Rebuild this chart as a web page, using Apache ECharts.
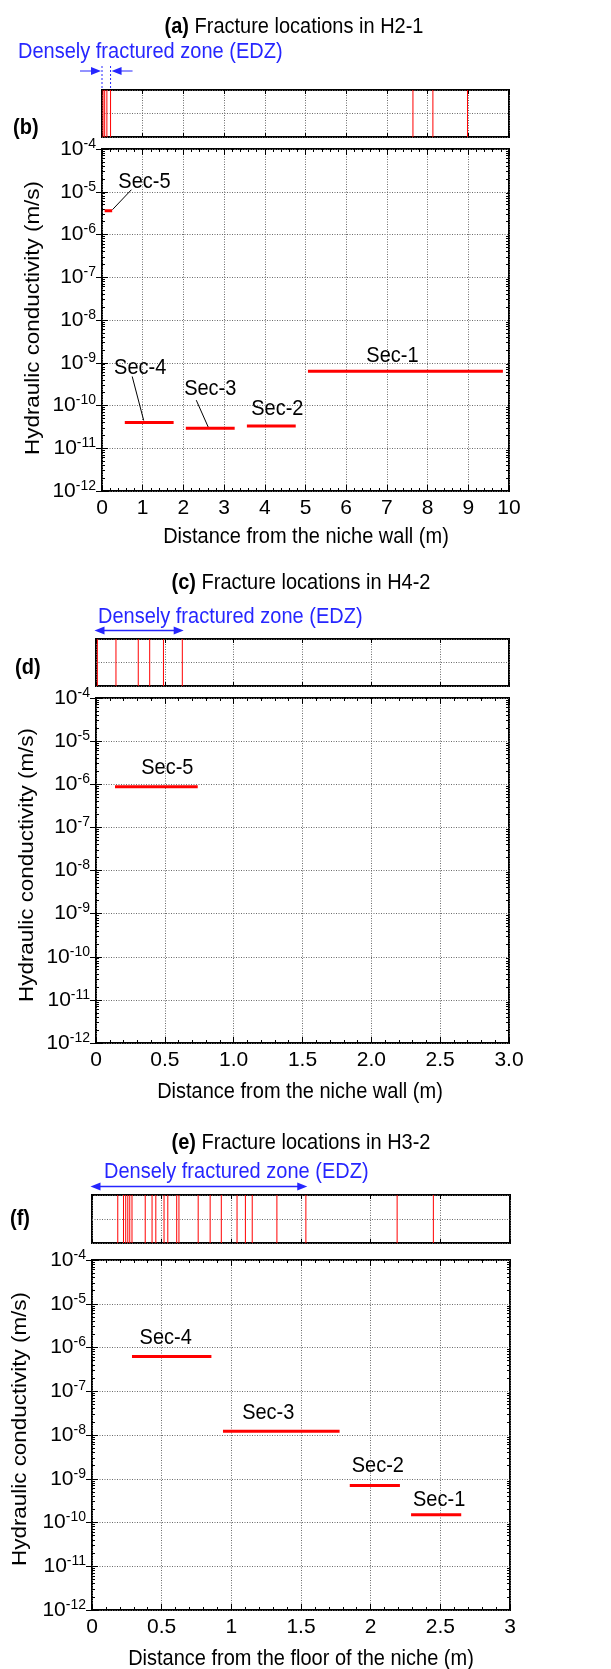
<!DOCTYPE html>
<html>
<head>
<meta charset="utf-8">
<script src="https://cdn.jsdelivr.net/npm/echarts@6/dist/echarts.min.js"></script>
<style>
  html, body { margin: 0; padding: 0; background: #fff; }
  #chart { width: 611px; height: 1669px; }
</style>
</head>
<body>
<div id="chart"></div>
<script>
// ---- Fracture positions along each borehole (m) ----
const fracturesH21 = [0.025, 0.066, 0.12, 0.21, 7.64, 8.13, 8.98];
const fracturesH42 = [0.01, 0.145, 0.307, 0.39, 0.49, 0.627];
const fracturesH32 = [0.185, 0.226, 0.242, 0.257, 0.271, 0.287, 0.382, 0.431, 0.458,
                      0.517, 0.544, 0.608, 0.624, 0.762, 0.848, 0.928, 1.041, 1.101,
                      1.150, 1.327, 1.535, 2.19, 2.45];

// ---- End of the densely fractured zone (m) ----
const edzEndH21 = 0.21;
const edzEndH42 = 0.637;
const edzEndH32 = 1.545;

// ---- Packer test sections: name, start (m), end (m), hydraulic conductivity (m/s) ----
const sectionNamesH21 = ['Sec-1', 'Sec-2', 'Sec-3', 'Sec-4', 'Sec-5'];
const sectionFromH21  = [5.06, 3.56, 2.06, 0.56, 0.065];
const sectionToH21    = [9.85, 4.76, 3.26, 1.76, 0.25];
const conductivityH21 = [6.3e-10, 3.3e-11, 2.95e-11, 4.0e-11, 3.6e-6];

const sectionNamesH42 = ['Sec-5'];
const sectionFromH42  = [0.138];
const sectionToH42    = [0.739];
const conductivityH42 = [8.7e-7];

const sectionNamesH32 = ['Sec-1', 'Sec-2', 'Sec-3', 'Sec-4'];
const sectionFromH32  = [2.29, 1.85, 0.94, 0.287];
const sectionToH32    = [2.65, 2.21, 1.777, 0.857];
const conductivityH32 = [1.5e-10, 7.0e-10, 1.22e-8, 6.2e-7];

// ---- Axis ranges and tick labels ----
const kMin = 1e-12, kMax = 1e-4;
const xTickLabelsH21 = ['0', '1', '2', '3', '4', '5', '6', '7', '8', '9', '10'];
const xTickLabelsH42 = ['0', '0.5', '1.0', '1.5', '2.0', '2.5', '3.0'];
const xTickLabelsH32 = ['0', '0.5', '1', '1.5', '2', '2.5', '3'];

const FONT = '"Liberation Sans", Arial, Helvetica, sans-serif';
const RED = '#ff0000';
const BLUE = '#2626ff';

// logarithmic minor ticks (2..9 within each decade)
const logMinorTicks = [];
for (let e = -12; e < -4; e++) {
  for (let m = 2; m <= 9; m++) logMinorTicks.push(m * Math.pow(10, e));
}

// Per-borehole panel layout
const panels = [
  {
    tag: '(a)', title: 'Fracture locations in H2-1', titleX: 294, titleY: 27,
    plotTag: '(b)', plotTagX: 13, plotTagY: 128,
    edzTextX: 18, edzTextY: 52, edzStyle: 'inward', edzEnd: edzEndH21,
    fractures: fracturesH21,
    names: sectionNamesH21, from: sectionFromH21, to: sectionToH21, k: conductivityH21,
    xMax: 10, xStep: 1, xLabels: xTickLabelsH21,
    xTitle: 'Distance from the niche wall (m)', xTitleX: 306, xTitleY: 537,
    yTitleX: 33, yTitleY: 318,
    strip: { left: 102, top: 90, width: 407, height: 47 },
    main: { left: 102, top: 149, width: 407, height: 342 },
    labelOffset: { 'Sec-1': [-13, -16], 'Sec-2': [6, -17], 'Sec-3': [0, -39], 'Sec-4': [-9, -55], 'Sec-5': [36, -29] },
    leaders: { 'Sec-3': [[-14, 11], [-2, -1]], 'Sec-4': [[-8, 9], [-5.5, -2]], 'Sec-5': [[-13, 8], [4, -1]] }
  },
  {
    tag: '(c)', title: 'Fracture locations in H4-2', titleX: 301, titleY: 583,
    plotTag: '(d)', plotTagX: 15, plotTagY: 668,
    edzTextX: 98, edzTextY: 617, edzStyle: 'span', edzEnd: edzEndH42,
    fractures: fracturesH42,
    names: sectionNamesH42, from: sectionFromH42, to: sectionToH42, k: conductivityH42,
    xMax: 3, xStep: 0.5, xLabels: xTickLabelsH42,
    xTitle: 'Distance from the niche wall (m)', xTitleX: 300, xTitleY: 1092,
    yTitleX: 27, yTitleY: 865,
    strip: { left: 96, top: 639, width: 413, height: 47 },
    main: { left: 96, top: 698, width: 413, height: 345 },
    labelOffset: { 'Sec-5': [11, -19] },
    leaders: {}
  },
  {
    tag: '(e)', title: 'Fracture locations in H3-2', titleX: 301, titleY: 1143,
    plotTag: '(f)', plotTagX: 10, plotTagY: 1219,
    edzTextX: 104, edzTextY: 1172, edzStyle: 'span', edzEnd: edzEndH32,
    fractures: fracturesH32,
    names: sectionNamesH32, from: sectionFromH32, to: sectionToH32, k: conductivityH32,
    xMax: 3, xStep: 0.5, xLabels: xTickLabelsH32,
    xTitle: 'Distance from the floor of the niche (m)', xTitleX: 301, xTitleY: 1659,
    yTitleX: 20, yTitleY: 1429,
    strip: { left: 92, top: 1195, width: 418, height: 48 },
    main: { left: 92, top: 1260, width: 418, height: 350 },
    labelOffset: { 'Sec-1': [3, -15], 'Sec-2': [3, -20], 'Sec-3': [-13, -18], 'Sec-4': [-6, -19] },
    leaders: {}
  }
];

const chart = echarts.init(document.getElementById('chart'), null, { renderer: 'canvas' });

const grids = [], xAxes = [], yAxes = [], series = [];
const gridDotted = { color: '#6a6a6a', type: [1, 1.5], width: 1 };
const tickStyle = { color: '#000', width: 1 };

panels.forEach((p) => {
  // fracture strip
  const sg = grids.length;
  grids.push(Object.assign({ show: true, borderColor: '#000', borderWidth: 2, backgroundColor: '#fff' }, p.strip));
  p.stripX = xAxes.length;
  xAxes.push({
    gridIndex: sg, type: 'value', min: 0, max: p.xMax, interval: p.xStep, position: 'bottom',
    axisLine: { show: false }, axisLabel: { show: false },
    axisTick: { show: true, inside: true, length: 4, lineStyle: tickStyle },
    splitLine: { show: true, lineStyle: gridDotted }
  });
  xAxes.push({
    gridIndex: sg, type: 'value', min: 0, max: p.xMax, interval: p.xStep, position: 'top',
    axisLine: { show: false }, axisLabel: { show: false },
    axisTick: { show: true, inside: true, length: 4, lineStyle: tickStyle },
    splitLine: { show: false }
  });
  p.stripY = yAxes.length;
  yAxes.push({
    gridIndex: sg, type: 'value', min: 0, max: 1, interval: 0.5, position: 'left',
    axisLine: { show: false }, axisLabel: { show: false }, axisTick: { show: false },
    splitLine: { show: true, lineStyle: gridDotted }
  });

  series.push({
    type: 'custom', name: p.title, xAxisIndex: p.stripX, yAxisIndex: p.stripY,
    data: p.fractures.map(v => [v, 0.5]),
    renderItem: (params, api) => {
      const x = api.value(0);
      const a = api.coord([x, 1]);
      const b = api.coord([x, 0]);
      return { type: 'line', shape: { x1: a[0], y1: a[1], x2: b[0], y2: b[1] },
               style: { stroke: RED, lineWidth: 1 } };
    },
    z: 3
  });

  // conductivity plot
  const mg = grids.length;
  grids.push(Object.assign({ show: true, borderColor: '#000', borderWidth: 2, backgroundColor: '#fff' }, p.main));
  p.mainX = xAxes.length;
  xAxes.push({
    gridIndex: mg, type: 'value', min: 0, max: p.xMax, interval: p.xStep, position: 'bottom',
    axisLine: { show: false },
    axisTick: { show: true, inside: true, length: 6, lineStyle: tickStyle },
    minorTick: { show: true, splitNumber: 5, length: 3, lineStyle: tickStyle },
    splitLine: { show: true, lineStyle: gridDotted },
    axisLabel: {
      show: true, margin: 7, color: '#000', fontSize: 21, fontFamily: FONT,
      formatter: (v) => p.xLabels[Math.round(v / p.xStep)]
    }
  });
  xAxes.push({
    gridIndex: mg, type: 'value', min: 0, max: p.xMax, interval: p.xStep, position: 'top',
    axisLine: { show: false }, axisLabel: { show: false }, splitLine: { show: false },
    axisTick: { show: true, inside: true, length: 6, lineStyle: tickStyle },
    minorTick: { show: true, splitNumber: 5, length: 3, lineStyle: tickStyle }
  });
  p.mainY = yAxes.length;
  yAxes.push({
    gridIndex: mg, type: 'log', logBase: 10, min: kMin, max: kMax, splitNumber: 8, position: 'left',
    axisLine: { show: false },
    axisTick: { show: true, inside: true, length: 6, lineStyle: tickStyle },
    splitLine: { show: true, lineStyle: gridDotted },
    axisLabel: {
      show: true, margin: 6, color: '#000', fontFamily: FONT, fontSize: 21,
      formatter: (v) => '{b|10}{s|' + Math.round(Math.log10(v)) + '}',
      rich: {
        b: { fontSize: 21, lineHeight: 24, fontFamily: FONT, color: '#000' },
        s: { fontSize: 14, lineHeight: 15, verticalAlign: 'top', fontFamily: FONT, color: '#000' }
      }
    }
  });
  yAxes.push({
    gridIndex: mg, type: 'log', logBase: 10, min: kMin, max: kMax, splitNumber: 8, position: 'right',
    axisLine: { show: false }, axisLabel: { show: false }, splitLine: { show: false },
    axisTick: { show: true, inside: true, length: 6, lineStyle: tickStyle }
  });
  ['left', 'right'].forEach(side => {
    yAxes.push({
      gridIndex: mg, type: 'log', logBase: 10, min: kMin, max: kMax, splitNumber: 8, position: side,
      axisLine: { show: false }, axisLabel: { show: false }, splitLine: { show: false },
      axisTick: { show: true, inside: true, length: 3, lineStyle: tickStyle, customValues: logMinorTicks }
    });
  });

  p.names.forEach((name, i) => {
    series.push({
      type: 'line', name: name, xAxisIndex: p.mainX, yAxisIndex: p.mainY,
      data: [[p.from[i], p.k[i]], [p.to[i], p.k[i]]],
      symbol: 'none', lineStyle: { color: RED, width: 3 }, z: 4, silent: true
    });
  });
});

chart.setOption({
  animation: false,
  backgroundColor: '#fff',
  grid: grids,
  xAxis: xAxes,
  yAxis: yAxes,
  series: series
});

// ---- Annotations placed in data coordinates ----
const graphics = [];
const textStyle = (text, extra) => Object.assign({
  text: text, fontFamily: FONT, fontSize: 20, fill: '#000', align: 'center', verticalAlign: 'middle'
}, extra || {});

function arrowHead(tip, dir, color) {
  // filled triangle pointing along dir (+1 right, -1 left)
  const len = 10, half = 4;
  return {
    type: 'polygon', shape: { points: [[tip[0], tip[1]], [tip[0] - dir * len, tip[1] - half], [tip[0] - dir * len, tip[1] + half]] },
    style: { fill: color }
  };
}

panels.forEach((p) => {
  // heading
  graphics.push({
    type: 'text', x: p.titleX, y: p.titleY, scaleY: 1.12,
    style: textStyle('{t|' + p.tag + '} ' + p.title, {
      rich: { t: { fontWeight: 'bold', fontSize: 20, fontFamily: FONT, fill: '#000' } }
    })
  });
  graphics.push({
    type: 'text', x: p.plotTagX, y: p.plotTagY, scaleY: 1.12,
    style: textStyle(p.plotTag, { align: 'left', fontWeight: 'bold' })
  });
  graphics.push({
    type: 'text', x: p.edzTextX, y: p.edzTextY, scaleY: 1.12,
    style: textStyle('Densely fractured zone (EDZ)', { align: 'left', fill: BLUE })
  });

  // EDZ extent arrows
  const sFinder = { xAxisIndex: p.stripX, yAxisIndex: p.stripY };
  const x0 = chart.convertToPixel(sFinder, [0, 1]);
  const x1 = chart.convertToPixel(sFinder, [p.edzEnd, 1]);
  if (p.edzStyle === 'inward') {
    const ay = x0[1] - 19;
    graphics.push({ type: 'line', shape: { x1: x0[0] - 22, y1: ay, x2: x0[0] - 6, y2: ay }, style: { stroke: BLUE, lineWidth: 1 } });
    graphics.push(arrowHead([x0[0] - 1, ay], 1, BLUE));
    graphics.push({ type: 'line', shape: { x1: x1[0] + 22, y1: ay, x2: x1[0] + 6, y2: ay }, style: { stroke: BLUE, lineWidth: 1 } });
    graphics.push(arrowHead([x1[0] + 1, ay], -1, BLUE));
    [x0[0], x1[0]].forEach(xx => {
      graphics.push({ type: 'line', shape: { x1: xx, y1: ay - 5, x2: xx, y2: x0[1] }, style: { stroke: BLUE, lineWidth: 1, lineDash: [2, 2] } });
    });
  } else {
    const ay = x0[1] - 8.5;
    const l = x0[0] - 1.5, r = x1[0];
    graphics.push({ type: 'line', shape: { x1: l + 6, y1: ay, x2: r - 6, y2: ay }, style: { stroke: BLUE, lineWidth: 1.5 } });
    graphics.push(arrowHead([l, ay], -1, BLUE));
    graphics.push(arrowHead([r, ay], 1, BLUE));
  }

  // section labels and leaders
  const mFinder = { xAxisIndex: p.mainX, yAxisIndex: p.mainY };
  p.names.forEach((name, i) => {
    const mid = chart.convertToPixel(mFinder, [(p.from[i] + p.to[i]) / 2, p.k[i]]);
    const off = p.labelOffset[name] || [0, -18];
    const lx = mid[0] + off[0], ly = mid[1] + off[1];
    graphics.push({ type: 'text', x: lx, y: ly, scaleY: 1.12, style: textStyle(name) });
    const ld = p.leaders[name];
    if (ld) {
      graphics.push({
        type: 'line',
        shape: { x1: lx + ld[0][0], y1: ly + ld[0][1], x2: mid[0] + ld[1][0], y2: mid[1] + ld[1][1] },
        style: { stroke: '#000', lineWidth: 1 }
      });
    }
  });

  // axis titles
  graphics.push({ type: 'text', x: p.xTitleX, y: p.xTitleY, scaleY: 1.12, style: textStyle(p.xTitle) });
  graphics.push({
    type: 'text', x: p.yTitleX, y: p.yTitleY, rotation: Math.PI / 2, scaleX: 1.12,
    style: textStyle('Hydraulic conductivity (m/s)')
  });
});

chart.setOption({ graphic: { elements: graphics } });
</script>
</body>
</html>
